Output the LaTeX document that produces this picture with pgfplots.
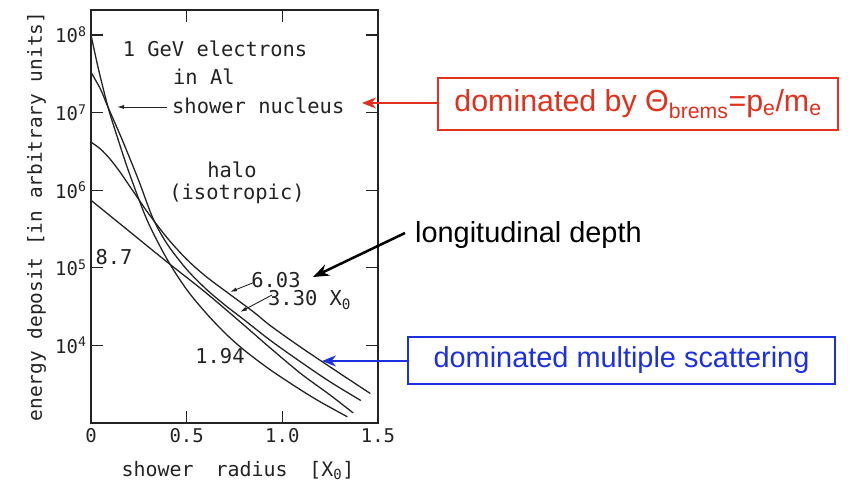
\documentclass[border=0pt]{standalone}
\usepackage{fontspec}
\usepackage{pgfplots}
\pgfplotsset{compat=1.18}
\usetikzlibrary{arrows.meta}
\setmainfont{Liberation Sans}
\newfontfamily\din{DejaVu Sans Mono}
\definecolor{annred}{RGB}{226,48,28}
\definecolor{annblue}{RGB}{28,48,226}
\definecolor{ink}{RGB}{35,35,35}

\begin{document}
\begin{tikzpicture}
\useasboundingbox (-91bp,-63bp) rectangle (759bp,423bp);
\begin{axis}[
  at={(0bp,0bp)}, anchor=south west, scale only axis,
  width=287bp, height=413bp,
  xmin=0, xmax=1.5, ymode=log, ymin=1e3, ymax=2.1e8,
  xtick={0,0.5,1,1.5}, xticklabels={0,0.5,1.0,1.5},
  ytick={1e4,1e5,1e6,1e7,1e8},
  yticklabels={10\textsuperscript{4},10\textsuperscript{5},10\textsuperscript{6},10\textsuperscript{7},10\textsuperscript{8}},
  yminorticks=false, xminorticks=false,
  xtick pos=both, ytick pos=both,
  tick align=inside, major tick length=12bp,
  tick style={line width=1.2bp, ink},
  axis line style={line width=1.3bp, ink},
  ticklabel style={font=\din\fontsize{19}{19}\selectfont, text=ink},
  xticklabel style={yshift=-2bp},
  yticklabel style={xshift=-1bp},
  curve/.style={ink, line width=1.3bp, smooth, tension=0.5, no markers},
]
% depth 1.94 X0
\addplot[curve] coordinates {(0,1e8) (0.04,3.548e7) (0.089,1.175e7) (0.142,4.467e6) (0.2,1.660e6) (0.294,4.074e5) (0.4,1.259e5) (0.5,5.248e4) (0.6,2.630e4) (0.7,1.445e4) (0.8,8.710e3) (0.94,4.786e3) (1.1,2.630e3) (1.2,1.862e3) (1.34,1.202e3)};
% depth 3.30 X0
\addplot[curve] coordinates {(0,3.311e7) (0.05,1.995e7) (0.089,1.175e7) (0.163,4.467e6) (0.25,1.318e6) (0.325,4.266e5) (0.4,1.995e5) (0.5,9.550e4) (0.6,5.370e4) (0.7,3.311e4) (0.8,2.138e4) (0.94,1.148e4) (1.1,6.026e3) (1.25,3.388e3) (1.41,1.950e3)};
% depth 6.03 X0
\addplot[curve] coordinates {(0,4.169e6) (0.05,3.388e6) (0.1,2.512e6) (0.15,1.738e6) (0.2,1.148e6) (0.25,7.586e5) (0.3,5.012e5) (0.4,2.399e5) (0.5,1.288e5) (0.6,7.762e4) (0.73,4.467e4) (0.85,2.692e4) (0.94,1.778e4) (1.1,9.333e3) (1.3,4.365e3) (1.46,2.399e3)};
% depth 8.7 X0
\addplot[curve] coordinates {(0,7.413e5) (0.2,2.951e5) (0.4,1.175e5) (0.6,4.786e4) (0.8,1.820e4) (0.94,9.120e3) (1.1,4.266e3) (1.25,2.291e3) (1.37,1.349e3)};
\end{axis}
% axis labels
\node[font=\din\fontsize{20}{20}\selectfont, text=ink, anchor=base] at (147bp,-53bp) {shower\hspace{1.1em}radius\hspace{1.1em}[X\textsubscript{0}]};
\node[font=\din\fontsize{19.5}{20}\selectfont, text=ink, anchor=base, rotate=90] at (-49bp,206.5bp) {energy deposit [in arbitrary units]};
% in-plot texts
\begin{scope}[every node/.style={font=\din\fontsize{20.5}{21}\selectfont, text=ink, inner sep=0pt}]
\node at (124bp,374bp) {1 GeV electrons};
\node[anchor=west] at (82bp,346bp) {in Al};
\node[anchor=west] at (81bp,317bp) {shower nucleus};
\node at (141bp,253bp) {halo};
\node at (146bp,229bp) {(isotropic)};
\node at (23bp,166bp) {8.7};
\node at (185bp,143bp) {6.03};
\node[anchor=west] at (177bp,123bp) {3.30 X\textsubscript{0}};
\node at (129bp,67bp) {1.94};
\end{scope}
\draw[ink, line width=0.9bp, -{Latex[length=7bp,width=4bp]}] (76bp,316bp) -- (26bp,316bp);
\draw[ink, line width=0.9bp, -{Latex[length=7bp,width=4bp]}] (164bp,141bp) -- (139bp,131bp);
\draw[ink, line width=0.9bp, -{Latex[length=7bp,width=4bp]}] (181bp,128bp) -- (149bp,111bp);
% right-side annotations
\node[draw=annred, line width=1.6bp, minimum width=400bp, minimum height=52bp, inner sep=0pt, text=annred, font=\fontsize{30.5}{33}\selectfont] at (547bp,319bp) {dominated by Θ\textsubscript{brems}=p\textsubscript{e}/m\textsubscript{e}};
\draw[annred, line width=1.8bp, -{Stealth[length=14bp,width=11bp]}] (347bp,320bp) -- (271bp,320bp);
\node[anchor=west, inner sep=0pt, text=black, font=\fontsize{29}{32}\selectfont] at (324bp,188bp) {longitudinal depth};
\draw[black, line width=2.5bp, -{Stealth[length=16bp,width=12bp]}] (314bp,190bp) -- (222bp,146bp);
\node[draw=annblue, line width=1.6bp, minimum width=427bp, minimum height=47bp, inner sep=0pt, text=annblue, font=\fontsize{29}{32}\selectfont] at (530.5bp,62.5bp) {dominated multiple scattering};
\draw[annblue, line width=1.8bp, -{Stealth[length=14bp,width=11bp]}] (317bp,62bp) -- (231bp,62bp);
\end{tikzpicture}
\end{document}
